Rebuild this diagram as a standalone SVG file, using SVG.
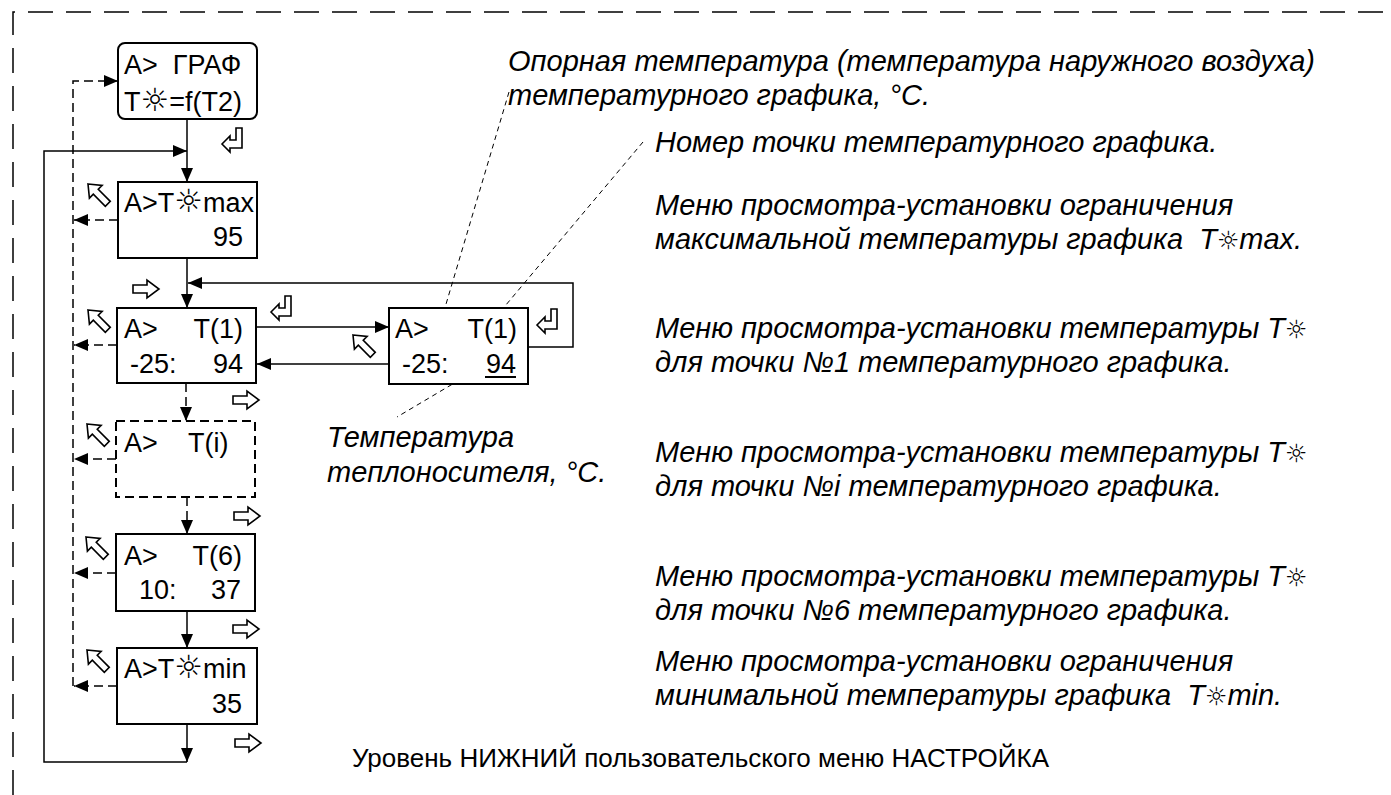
<svg xmlns="http://www.w3.org/2000/svg" width="1391" height="795" viewBox="0 0 1391 795">
<style>
.box{fill:#fff;stroke:#000;stroke-width:2}
.dbox{fill:#fff;stroke:#000;stroke-width:2;stroke-dasharray:9 5}
.t{font-family:"Liberation Sans",Arial,sans-serif;font-size:27px;fill:#000;white-space:pre}
.it{font-family:"Liberation Sans",Arial,sans-serif;font-size:29px;font-style:italic;fill:#000;white-space:pre}
.ti{font-family:"Liberation Sans",Arial,sans-serif;font-size:26px;fill:#000}
.sun{font-family:"DejaVu Sans",sans-serif;font-style:normal;font-size:32px}
.sun2{font-family:"DejaVu Sans",sans-serif;font-style:normal;font-size:25px}
.ln{fill:none;stroke:#000;stroke-width:1.5}
.dl{fill:none;stroke:#000;stroke-width:1.5;stroke-dasharray:9 5}
.ld{fill:none;stroke:#000;stroke-width:1;stroke-dasharray:5 4}
.ic{fill:#fff;stroke:#000;stroke-width:1.6;stroke-linejoin:miter}
</style>
<defs>
<marker id="ah" markerUnits="userSpaceOnUse" markerWidth="14" markerHeight="12" refX="14" refY="6" orient="auto">
<path d="M0,0 L14,6 L0,12 Z" fill="#000"/>
</marker>
<path id="ra" class="ic" d="M0,-4 H14 V-9 L26,0 L14,9 V4 H0 Z"/>
<path id="nw" class="ic" d="M0,0 L11,-9 V-3.5 H28 V3.5 H11 V9 Z"/>
<path id="ret" class="ic" d="M0,16 L8,8 V12 H14 V0 H20 V20 H8 V24 Z"/>
</defs>

<!-- outer dashed frame -->
<path d="M13,795 V12 H1391" fill="none" stroke="#000" stroke-width="1.5" stroke-dasharray="25 13"/>

<g id="connectors">
<line class="ln" x1="187" y1="119" x2="187" y2="182" marker-end="url(#ah)"/>
<line class="ln" x1="187" y1="724" x2="187" y2="762" marker-end="url(#ah)"/>
<polyline class="ln" points="187,762 44,762 44,151 187,151" marker-end="url(#ah)"/>
<line class="ln" x1="187" y1="258" x2="187" y2="308" marker-end="url(#ah)"/>
<line class="dl" x1="186" y1="383" x2="186" y2="421" marker-end="url(#ah)"/>
<line class="dl" x1="187" y1="497" x2="187" y2="534" marker-end="url(#ah)"/>
<line class="ln" x1="187" y1="611" x2="187" y2="648" marker-end="url(#ah)"/>
<line class="ln" x1="257" y1="327" x2="389" y2="327" marker-end="url(#ah)"/>
<line class="ln" x1="389" y1="364" x2="257" y2="364" marker-end="url(#ah)"/>
<polyline class="ln" points="528,347 573,347 573,283 188,283" marker-end="url(#ah)"/>
<polyline class="dl" points="73,686 73,81 118,81" marker-end="url(#ah)"/>
<line class="dl" x1="118" y1="220" x2="74" y2="220" marker-end="url(#ah)"/>
<line class="dl" x1="117" y1="345" x2="74" y2="345" marker-end="url(#ah)"/>
<line class="dl" x1="116" y1="459" x2="74" y2="459" marker-end="url(#ah)"/>
<line class="dl" x1="116" y1="573" x2="74" y2="573" marker-end="url(#ah)"/>
<line class="dl" x1="117" y1="686" x2="74" y2="686" marker-end="url(#ah)"/>
<line class="ld" x1="509" y1="92" x2="433" y2="348"/>
<line class="ld" x1="643" y1="142" x2="500" y2="312"/>
<line class="ld" x1="483" y1="366" x2="397" y2="417"/>
</g>

<g id="icons">
<use href="#ret" x="222" y="128"/>
<use href="#ret" x="271" y="296"/>
<use href="#ret" x="537" y="309"/>
<use href="#ra" x="133" y="289"/>
<use href="#ra" x="233" y="400"/>
<use href="#ra" x="234" y="516"/>
<use href="#ra" x="233" y="629"/>
<use href="#ra" x="235" y="743"/>
<use href="#nw" transform="translate(88,184) rotate(45)"/>
<use href="#nw" transform="translate(88,310) rotate(45)"/>
<use href="#nw" transform="translate(87,424) rotate(45)"/>
<use href="#nw" transform="translate(86,537) rotate(45)"/>
<use href="#nw" transform="translate(87,650) rotate(45)"/>
<use href="#nw" transform="translate(353,335) rotate(45)"/>
</g>

<g id="node-graf">
<rect class="box" x="118" y="43" width="139" height="76" rx="7"/>
<text class="t" x="124" y="74">A&gt;  ГРАФ</text>
<text class="t" x="124" y="111">T<tspan class="sun">☼</tspan>=f(T2)</text>
</g>

<g id="node-tmax">
<rect class="box" x="118" y="182" width="139" height="76"/>
<text class="t" x="124" y="212">A&gt;T<tspan class="sun">☼</tspan>max</text>
<text class="t" x="243" y="246" text-anchor="end">95</text>
</g>

<g id="node-t1">
<rect class="box" x="117" y="308" width="139" height="75"/>
<text class="t" x="124" y="338">A&gt;</text>
<text class="t" x="243" y="338" text-anchor="end">T(1)</text>
<text class="t" x="130" y="373">-25:</text>
<text class="t" x="243" y="373" text-anchor="end">94</text>
</g>

<g id="node-t1-edit">
<rect class="box" x="389" y="308" width="139" height="76"/>
<text class="t" x="395" y="338">A&gt;</text>
<text class="t" x="517" y="338" text-anchor="end">T(1)</text>
<text class="t" x="402" y="373">-25:</text>
<text class="t" x="516" y="373" text-anchor="end">94</text>
<line x1="485" y1="377" x2="516" y2="377" stroke="#000" stroke-width="2"/>
</g>

<g id="node-ti">
<rect class="dbox" x="116" y="421" width="139" height="76"/>
<text class="t" x="124" y="452">A&gt;</text>
<text class="t" x="188" y="452">T(i)</text>
</g>

<g id="node-t6">
<rect class="box" x="116" y="534" width="139" height="77"/>
<text class="t" x="124" y="565">A&gt;</text>
<text class="t" x="242" y="565" text-anchor="end">T(6)</text>
<text class="t" x="139" y="599">10:</text>
<text class="t" x="241" y="599" text-anchor="end">37</text>
</g>

<g id="node-tmin">
<rect class="box" x="117" y="648" width="140" height="76"/>
<text class="t" x="124" y="678">A&gt;T<tspan class="sun">☼</tspan>min</text>
<text class="t" x="242" y="713" text-anchor="end">35</text>
</g>

<g id="annotations">
<text class="it" x="508" y="71">Опорная температура (температура наружного воздуха)</text>
<text class="it" x="508" y="105">температурного графика, °C.</text>
<text class="it" x="655" y="152">Номер точки температурного графика.</text>
<text class="it" x="655" y="215">Меню просмотра-установки ограничения</text>
<text class="it" x="655" y="249">максимальной температуры графика  T<tspan class="sun2">☼</tspan>max.</text>
<text class="it" x="655" y="338">Меню просмотра-установки температуры T<tspan class="sun2">☼</tspan></text>
<text class="it" x="655" y="372">для точки №1 температурного графика.</text>
<text class="it" x="655" y="462">Меню просмотра-установки температуры T<tspan class="sun2">☼</tspan></text>
<text class="it" x="655" y="496">для точки №i температурного графика.</text>
<text class="it" x="655" y="586">Меню просмотра-установки температуры T<tspan class="sun2">☼</tspan></text>
<text class="it" x="655" y="620">для точки №6 температурного графика.</text>
<text class="it" x="655" y="671">Меню просмотра-установки ограничения</text>
<text class="it" x="655" y="705">минимальной температуры графика  T<tspan class="sun2">☼</tspan>min.</text>
<text class="it" x="327" y="447">Температура</text>
<text class="it" x="327" y="482">теплоносителя, °C.</text>
<text class="ti" x="352" y="767">Уровень НИЖНИЙ пользовательского меню НАСТРОЙКА</text>
</g>
</svg>
